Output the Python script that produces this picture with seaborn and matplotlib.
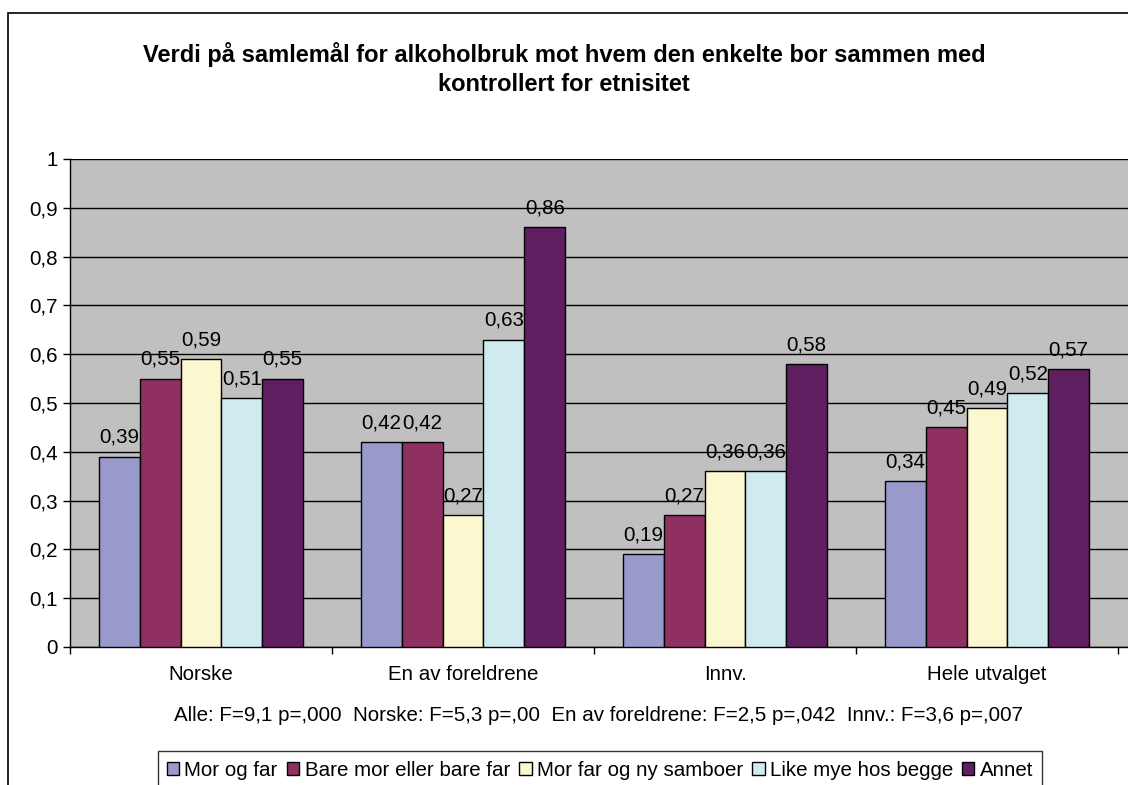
import numpy as np
import pandas as pd
import matplotlib
matplotlib.use('Agg')
import matplotlib.pyplot as plt
import matplotlib.patches as mpatches
from matplotlib.ticker import FuncFormatter, MultipleLocator, FixedLocator
import seaborn as sbn

groups = ['Norske', 'En av foreldrene', 'Innv.', 'Hele utvalget']
living = ['Mor og far', 'Bare mor eller bare far', 'Mor far og ny samboer',
          'Like mye hos begge', 'Annet']
mor_og_far = [0.39, 0.42, 0.19, 0.34]
bare_mor_far = [0.55, 0.42, 0.27, 0.45]
ny_samboer = [0.59, 0.27, 0.36, 0.49]
like_mye = [0.51, 0.63, 0.36, 0.52]
annet = [0.55, 0.86, 0.58, 0.57]
colors = ['#9999CC', '#8F3060', '#FBF8D0', '#CFEBF0', '#5F1E60']

rows = []
for name, vals in zip(living, [mor_og_far, bare_mor_far, ny_samboer, like_mye, annet]):
    for g, v in zip(groups, vals):
        rows.append({'Gruppe': g, 'Bor med': name, 'Verdi': v})
df = pd.DataFrame(rows)

sbn.set_style('white')
plt.rcParams['font.family'] = ['Liberation Sans', 'DejaVu Sans']
plt.rcParams['text.color'] = 'black'
plt.rcParams['axes.labelcolor'] = 'black'
plt.rcParams['xtick.color'] = 'black'
plt.rcParams['ytick.color'] = 'black'

fs = 14.8

fig = plt.figure(figsize=(11.28, 7.85), dpi=100)
ax = fig.add_axes([70/1128, 1 - 647/785, 1058/1128, 488/785])
ax.set_facecolor('#C0C0C0')

sbn.barplot(data=df, x='Gruppe', y='Verdi', hue='Bor med', order=groups,
            hue_order=living, palette=colors, width=0.78, edgecolor='black',
            linewidth=1, saturation=1, ax=ax, legend=False, zorder=3)

for cont in ax.containers:
    ax.bar_label(cont, labels=[f'{v:.2f}'.replace('.', ',') for v in cont.datavalues],
                 padding=7, fontsize=fs)

ax.set_ylim(0, 1)
ax.set_xlim(-0.5, 3.5 + 10/262)
ax.yaxis.set_major_locator(MultipleLocator(0.1))
ax.yaxis.set_major_formatter(FuncFormatter(
    lambda v, p: '0' if abs(v) < 1e-9 else ('1' if abs(v - 1) < 1e-9 else f'{v:.1f}'.replace('.', ','))))
ax.grid(axis='y', color='black', linewidth=1, zorder=0)
ax.set_axisbelow(True)
for s in ['top', 'right']:
    ax.spines[s].set_visible(False)
for s in ['left', 'bottom']:
    ax.spines[s].set_color('black')
    ax.spines[s].set_linewidth(1)

ax.tick_params(axis='y', length=5, width=1, direction='out', left=True, labelsize=fs, pad=4)
ax.set_xticks(range(len(groups)))
ax.set_xticklabels(groups, fontsize=fs)
ax.tick_params(axis='x', length=0, pad=13)
ax.xaxis.set_minor_locator(FixedLocator([-0.5, 0.5, 1.5, 2.5, 3.5]))
ax.tick_params(axis='x', which='minor', length=5, width=1, direction='out', bottom=True)

ax.set_xlabel('Alle: F=9,1 p=,000  Norske: F=5,3 p=,00  En av foreldrene: F=2,5 p=,042  Innv.: F=3,6 p=,007',
              fontsize=fs, labelpad=16)
ax.set_ylabel('')

fig.suptitle('Verdi på samlemål for alkoholbruk mot hvem den enkelte bor sammen med\nkontrollert for etnisitet',
             fontsize=17, fontweight='bold', y=1 - 69/785, va='center', linespacing=1.35)

handles = [mpatches.Patch(facecolor=c, edgecolor='black', linewidth=1) for c in colors]
leg = fig.legend(handles, living, loc='center', bbox_to_anchor=(600/1128, 1 - 770/785),
                 ncol=5, fontsize=fs, frameon=True, fancybox=False, handlelength=0.6,
                 handleheight=0.6, handletextpad=0.25, columnspacing=0.45, borderpad=0.45,
                 borderaxespad=0)
leg.get_frame().set_edgecolor('black')
leg.get_frame().set_linewidth(1)

border = mpatches.Rectangle((8/1128, -0.1), 1.1, 1 - 13/785 + 0.1, transform=fig.transFigure,
                            fill=False, edgecolor='black', linewidth=1.2)
fig.patches.append(border)

fig.savefig('out.png', dpi=100, facecolor='white')
